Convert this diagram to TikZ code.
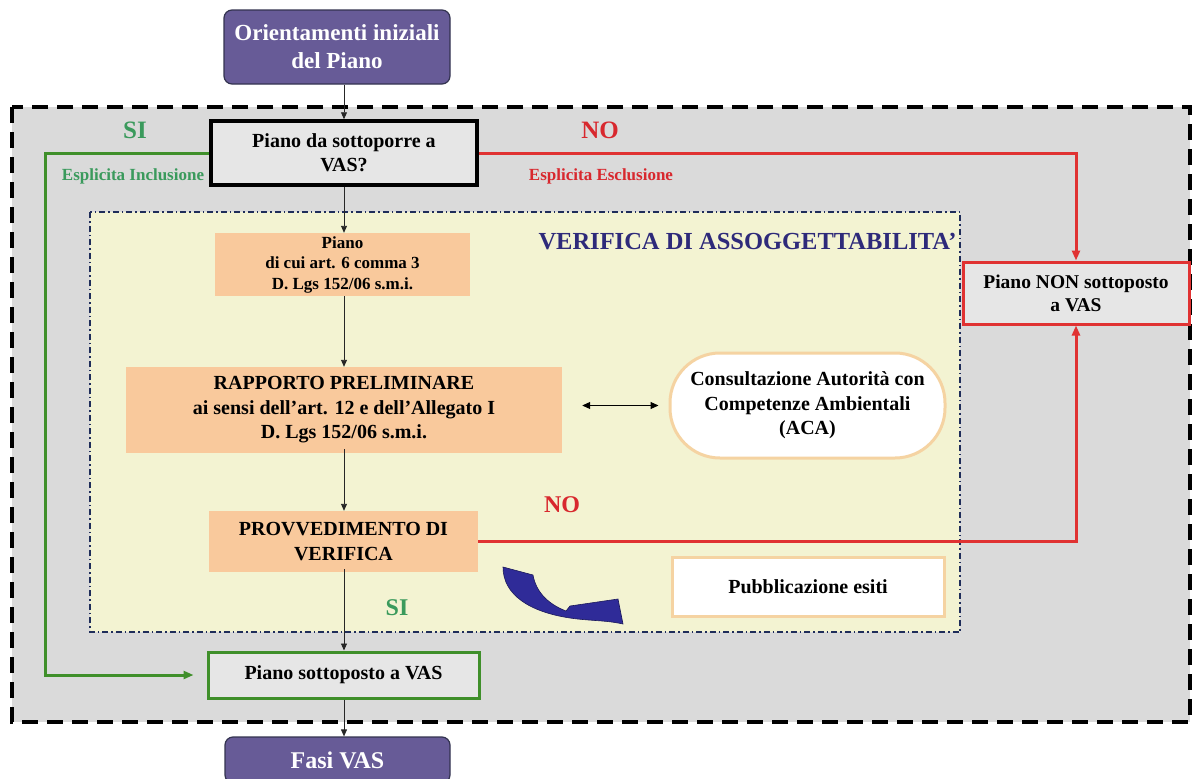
\documentclass[tikz,border=0pt]{standalone}
\usepackage{fontspec}
\setmainfont{Liberation Serif}
\usetikzlibrary{arrows.meta}
\definecolor{purp}{HTML}{675B97}
\definecolor{purpd}{HTML}{33334F}
\definecolor{outgray}{HTML}{DADADA}
\definecolor{boxgray}{HTML}{E6E6E6}
\definecolor{gline}{HTML}{3F8F2A}
\definecolor{gtext}{HTML}{3A9A5C}
\definecolor{rline}{HTML}{E03232}
\definecolor{rtext}{HTML}{D8282E}
\definecolor{inyel}{HTML}{F3F3D2}
\definecolor{navyb}{HTML}{1F2D5A}
\definecolor{navyt}{HTML}{2E2A7A}
\definecolor{orbx}{HTML}{F9C99C}
\definecolor{peach}{HTML}{F5D3A2}
\definecolor{bluear}{HTML}{2F2B98}
\tikzset{
  txt/.style={font=\bfseries\fontsize{#1}{30}\selectfont},
  purpbox/.style={rectangle, rounded corners=8pt, fill=purp, draw=purpd, line width=1.2pt,
    text=white, align=center, inner sep=0pt},
  graybox/.style={rectangle, fill=boxgray, align=center, inner sep=0pt},
  orbox/.style={rectangle, fill=orbx, align=center, inner sep=0pt},
  whbox/.style={rectangle, fill=white, draw=peach, line width=3pt, align=center, inner sep=0pt},
  flow/.style={draw=black!85, line width=0.9pt, -{Triangle[length=7pt,width=6pt]}},
  gflow/.style={draw=gline, line width=3pt, -{Triangle[length=10pt,width=8pt]}},
  rflow/.style={draw=rline, line width=3pt, -{Triangle[length=10pt,width=8pt]}},
}
\begin{document}
\begin{tikzpicture}[x=1pt,y=-1pt]
\useasboundingbox (0,0) rectangle (1195,779);
% outer dashed area
\draw[fill=outgray, line width=4pt, dash pattern=on 16pt off 9pt] (12,107) rectangle (1190,722);
% inner dash-dot area
\draw[fill=inyel, draw=navyb, line width=2pt, dash pattern=on 6pt off 3pt on 1.5pt off 3pt] (90,212) rectangle (960,632);

% nodes
\node[purpbox, minimum width=226pt, minimum height=74pt, font=\bfseries\fontsize{23}{28}\selectfont] (orient) at (337,47) {Orientamenti iniziali\\del Piano};
\node[graybox, draw=black, line width=3.5pt, minimum width=266pt, minimum height=64pt,
  font=\bfseries\fontsize{20}{24}\selectfont] (vas) at (344,153) {Piano da sottoporre a\\VAS?};
\node[orbox, minimum width=255pt, minimum height=63pt, font=\bfseries\fontsize{17}{20.5}\selectfont] (piano6) at (342.5,264.5)
  {Piano\\di cui art. 6 comma 3\\D. Lgs 152/06 s.m.i.};
\node[orbox, minimum width=436pt, minimum height=86pt, font=\bfseries\fontsize{20}{24.5}\selectfont] (rapp) at (344,410)
  {RAPPORTO PRELIMINARE\\ai sensi dell’art. 12 e dell’Allegato I\\D. Lgs 152/06 s.m.i.};
\node[orbox, minimum width=269pt, minimum height=61pt, font=\bfseries\fontsize{20}{25}\selectfont] (provv) at (343.5,541.5)
  {PROVVEDIMENTO DI\\VERIFICA};
\node[whbox, rounded corners=50pt, minimum width=275pt, minimum height=105pt, font=\bfseries\fontsize{20}{24.5}\selectfont] (aca) at (807.5,405.5)
  {Consultazione Autorità con\\Competenze Ambientali\\(ACA)};
\node[whbox, minimum width=272pt, minimum height=59pt, font=\bfseries\fontsize{20}{23}\selectfont] (pubb) at (808,586.5)
  {Pubblicazione esiti};
\node[graybox, draw=rline, line width=3pt, minimum width=226pt, minimum height=62pt, font=\bfseries\fontsize{19.5}{23}\selectfont] (non) at (1076,293)
  {Piano NON sottoposto\\a VAS};
\node[graybox, draw=gline, line width=3pt, minimum width=271pt, minimum height=46pt, font=\bfseries\fontsize{20}{23}\selectfont] (sott) at (343.5,675)
  {Piano sottoposto a VAS};
\node[purpbox, minimum width=225pt, minimum height=46pt, font=\bfseries\fontsize{24}{28}\selectfont] (fasi) at (337.5,760) {Fasi VAS};

% labels
\node[txt=25, text=gtext] (si1) at (135,130) {SI};
\node[txt=25, text=rtext] (no1) at (600,130) {NO};
\node[txt=17, text=gtext] (incl) at (133,176) {Esplicita Inclusione};
\node[txt=17, text=rtext] (escl) at (601,176) {Esplicita Esclusione};
\node[txt=24.5, text=navyt, anchor=east] (verif) at (960,242) {VERIFICA DI ASSOGGETTABILITA’};
\node[txt=24, text=rtext] (no2) at (562,505) {NO};
\node[txt=24, text=gtext] (si2) at (397,608) {SI};

% connectors
\draw[flow] (vas.north |- orient.south) -- (vas.north);
\draw[flow] (vas.south) -- (vas.south |- piano6.north);
\draw[flow] (vas.south |- piano6.south) -- (rapp.north);
\draw[flow] ([yshift=4pt]rapp.south) -- (rapp.south |- provv.north);
\draw[flow] ([yshift=3pt]rapp.south |- provv.south) -- (rapp.south |- sott.north);
\draw[flow] (rapp.south |- sott.south) -- (rapp.south |- fasi.north);
\draw[draw=black, line width=1pt, {Triangle[length=8pt,width=7pt]}-{Triangle[length=8pt,width=7pt]}]
  ([xshift=20pt]rapp.east |- aca.west) -- ([xshift=-10pt]aca.west);
\coordinate (gl) at (45,153);
\coordinate (gb) at (45,675);
\draw[gflow] (vas.west) -- (gl) -- (gb) -- ([xshift=-13pt]sott.west);
\draw[rflow] (vas.east) -| (non.north);
\draw[rflow] (provv.east) -| (non.south);

% blue curved arrow
\filldraw[fill=bluear, draw=bluear!60!black, line width=0.6pt]
  (503,567) .. controls (503,595) and (530,612) .. (570,618)
  .. controls (590,621) and (605,620) .. (623,624) -- (618,599) -- (570,606) -- (566,611)
  .. controls (548,604) and (536,592) .. (533,575) -- cycle;
\end{tikzpicture}
\end{document}
